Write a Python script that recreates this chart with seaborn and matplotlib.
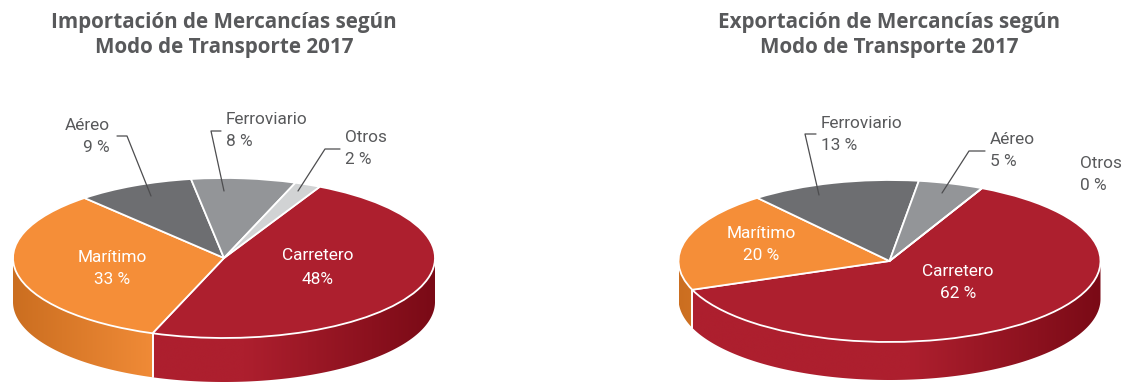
import numpy as np
import seaborn as sns
import matplotlib
matplotlib.use("Agg")
import matplotlib.pyplot as plt
from matplotlib.colors import to_rgb
from matplotlib.patches import Polygon
from matplotlib.transforms import Affine2D

# Modal shares, in percent, drawn clockwise from the top-right
imp_modes = ["Carretero", "Marítimo", "Aéreo", "Ferroviario", "Otros"]
imp_values = [48, 33, 9, 8, 2]
imp_labels = ["48%", "33 %", "9 %", "8 %", "2 %"]

exp_modes = ["Carretero", "Marítimo", "Ferroviario", "Aéreo", "Otros"]
exp_values = [62, 20, 13, 5, 0]
exp_labels = ["62 %", "20 %", "13 %", "5 %", "0 %"]

imp_title = "Importación de Mercancías según\nModo de Transporte 2017"
exp_title = "Exportación de Mercancías según\nModo de Transporte 2017"

W, H = 1127, 383
LABEL_FONT = ["Roboto", "DejaVu Sans"]
TITLE_FONT = ["Open Sans", "DejaVu Sans"]
GREY_TEXT = "#58595B"

sns.set_theme(style="white")
plt.rcParams["font.family"] = LABEL_FONT

red, orange, dark, mid, light = sns.color_palette(
    ["#AD1F2E", "#F58E38", "#6D6E71", "#939598", "#D1D3D4"]
)
wedge_colors = [red, orange, dark, mid, light]

# Side-wall shading: horizontal span on the disc and the colours at its two ends
SIDE_SHADE = {
    red: ([0.1, 1.0], [red, to_rgb("#7A0A16")]),
    orange: ([-1.0, -0.3], [to_rgb("#CB6E20"), to_rgb("#F28C38")]),
}

fig = plt.figure(figsize=(W / 100, H / 100), dpi=100, facecolor="white")
px = Affine2D().scale(1, -1).translate(0, H)


def draw_side(ax, values, colors, start, drop):
    """Extruded wall below the disc, a horizontal gradient clipped to each segment."""
    edges = start - np.cumsum([0] + list(values)) * 3.6
    for a, b, col in zip(edges[:-1], edges[1:], colors):
        for wrap in (0, -360):
            lo = max(b, 180 + wrap)
            hi = min(a, 360 + wrap)
            if lo >= hi:
                continue
            t = np.radians(np.linspace(lo, hi, 240))
            x, y = np.cos(t), np.sin(t)
            outline = np.column_stack(
                [np.r_[x, x[::-1]], np.r_[y, y[::-1] - drop]]
            )
            grid = np.linspace(-1, 1, 800)
            span, ends = SIDE_SHADE.get(col, ([-1, 1], [col, col]))
            rgb = np.column_stack(
                [np.interp(grid, span, [ends[0][i], ends[1][i]]) for i in range(3)]
            )[np.newaxis, :, :]
            image = ax.imshow(rgb, extent=(-1, 1, -1 - drop, 0.2), aspect="auto", zorder=1,
                              interpolation="bilinear")
            image.set_clip_path(Polygon(outline, transform=ax.transData))
            # seam between neighbouring walls
            for edge in (lo, hi):
                if edge not in (180 + wrap, 360 + wrap):
                    r = np.radians(edge)
                    ax.plot([np.cos(r)] * 2, [np.sin(r), np.sin(r) - drop],
                            color="white", lw=1.2, zorder=1.5)


def draw_disc(values, colors, start, cx, cy, rx, ry, depth, title):
    ax = fig.add_axes([0, 0, 1, 1])
    draw_side(ax, values, colors, start, depth / ry)
    ax.pie(
        values, colors=colors, startangle=start, counterclock=False, radius=1,
        wedgeprops=dict(edgecolor="white", linewidth=1.3, zorder=3),
    )
    ax.set_aspect("auto")
    ax.set_xlim(-cx / rx, (W - cx) / rx)
    ax.set_ylim((cy - H) / ry, cy / ry)
    ax.patch.set_visible(False)
    ax.set_axis_off()
    fig.text(cx, 35, title, transform=px, ha="center", va="center", family=TITLE_FONT,
             weight="bold", size=14.9, color=GREY_TEXT, linespacing=1.2)
    return ax


def label(name, value, x, y, gap, ha="left", color=GREY_TEXT):
    for text, yy in ((name, y), (value, y + gap)):
        fig.text(x, yy, text, transform=px, ha=ha, va="center", size=12.4, color=color)


def leader(points):
    xs, ys = zip(*points)
    fig.add_artist(plt.Line2D(xs, ys, transform=px, color="#4D4D4F", lw=0.9, zorder=6))


# Imports
draw_disc(imp_values, wedge_colors, 63, 224, 258, 211, 80, 44, imp_title)
label(imp_modes[0], imp_labels[0], 318, 256, 23, "center", "white")
label(imp_modes[1], imp_labels[1], 112, 258, 21, "center", "white")
label(imp_modes[2], imp_labels[2], 110, 125, 22, "right")
label(imp_modes[3], imp_labels[3], 226, 119, 23)
label(imp_modes[4], imp_labels[4], 345, 138, 22)
leader([(117, 136), (127, 136), (151, 196)])
leader([(221, 131), (211, 131), (224, 191)])
leader([(340, 149), (325, 149), (298, 191)])

# Exports
draw_disc(exp_values, wedge_colors, 64, 889.5, 261, 211, 81, 38, exp_title)
label(exp_modes[0], exp_labels[0], 958, 271, 22, "center", "white")
label(exp_modes[1], exp_labels[1], 761, 233, 23, "center", "white")
label(exp_modes[2], exp_labels[2], 821, 123, 22)
label(exp_modes[3], exp_labels[3], 990, 140, 22)
label(exp_modes[4], exp_labels[4], 1080, 163, 22)
leader([(816, 134), (805, 134), (819, 195)])
leader([(985, 151), (969, 151), (942, 193)])

fig.savefig("out.png", dpi=100, facecolor="white")
